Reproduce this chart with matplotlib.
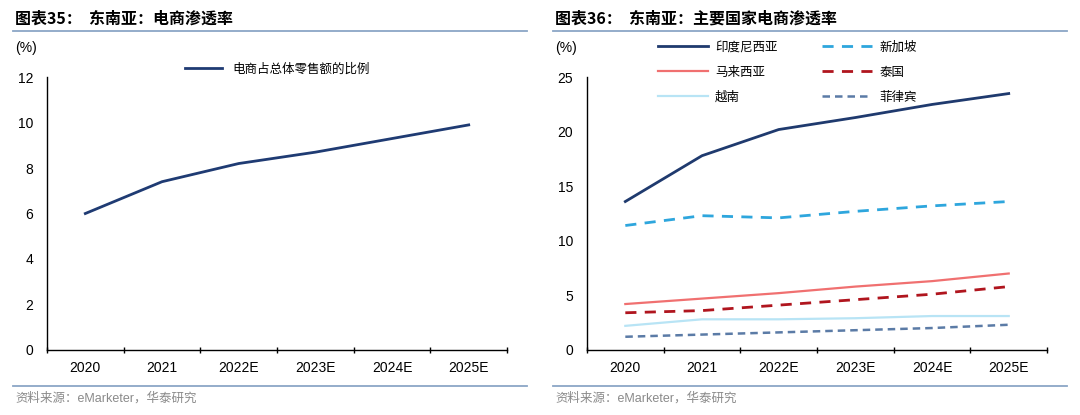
import numpy as np
import matplotlib.pyplot as plt
from matplotlib.lines import Line2D

plt.rcParams['font.family'] = ['Liberation Sans', 'Noto Sans CJK SC', 'DejaVu Sans']

years = ['2020', '2021', '2022E', '2023E', '2024E', '2025E']

# left chart: share of e-commerce in total retail (%)
sea_share = [6.0, 7.4, 8.2, 8.7, 9.3, 9.9]

# right chart: e-commerce penetration by country (%)
indonesia = [13.6, 17.8, 20.2, 21.3, 22.5, 23.5]
singapore = [11.4, 12.3, 12.1, 12.7, 13.2, 13.6]
malaysia = [4.2, 4.7, 5.2, 5.8, 6.3, 7.0]
thailand = [3.4, 3.6, 4.1, 4.6, 5.1, 5.8]
vietnam = [2.2, 2.8, 2.8, 2.9, 3.1, 3.1]
philippines = [1.2, 1.4, 1.6, 1.8, 2.0, 2.3]

fig = plt.figure(figsize=(10.8, 4.15), dpi=100)

cjk = ['Noto Sans CJK SC', 'DejaVu Sans']
rule_color = '#8ba6c6'
x = np.arange(len(years))


def setup_axes(ax, ymax, ystep):
    ax.set_xlim(-0.5, len(years) - 0.5)
    ax.set_ylim(0, ymax)
    ax.set_yticks(np.arange(0, ymax + 0.1, ystep))
    ax.set_xticks(x)
    ax.set_xticklabels(years, fontsize=10)
    ax.set_xticks(np.arange(-0.5, len(years), 1), minor=True)
    ax.tick_params(axis='x', which='major', length=0, pad=8)
    ax.tick_params(axis='x', which='minor', length=4, direction='inout', width=1)
    ax.tick_params(axis='y', length=0, pad=10, labelsize=10)
    for s in ['top', 'right']:
        ax.spines[s].set_visible(False)
    for s in ['left', 'bottom']:
        ax.spines[s].set_linewidth(1)
        ax.spines[s].set_color('black')


# left panel
ax1 = fig.add_axes([0.0435, 0.157, 0.426, 0.657])
ax1.plot(x, sea_share, color='#1f3b73', lw=2, label='电商占总体零售额的比例')
setup_axes(ax1, 12, 2)
ax1.legend(loc='upper center', bbox_to_anchor=(0.5, 1.095), frameon=False,
           prop={'family': cjk, 'size': 9}, handlelength=3.0)

# right panel
ax2 = fig.add_axes([0.5435, 0.157, 0.426, 0.657])
ax2.plot(x, indonesia, color='#1f3a6e', lw=2, label='印度尼西亚')
ax2.plot(x, singapore, color='#2ea6dd', lw=2, ls=(0, (4, 3)), label='新加坡')
ax2.plot(x, malaysia, color='#f07070', lw=1.6, label='马来西亚')
ax2.plot(x, thailand, color='#b0151e', lw=2, ls=(0, (4, 3)), label='泰国')
ax2.plot(x, vietnam, color='#b8e4f5', lw=1.6, label='越南')
ax2.plot(x, philippines, color='#5b7ba6', lw=1.8, ls=(0, (3, 2)), label='菲律宾')
setup_axes(ax2, 25, 5)
handles, labels = ax2.get_legend_handles_labels()
order = [0, 2, 4, 1, 3, 5]
ax2.legend([handles[i] for i in order], [labels[i] for i in order], ncol=2,
           loc='upper left', bbox_to_anchor=(0.13, 1.175), frameon=False,
           prop={'family': cjk, 'size': 9}, handlelength=4.0, handletextpad=0.55,
           columnspacing=3.6, labelspacing=0.95)

# titles, rules and source
for x0, title in [(0.012, '图表35：  东南亚：电商渗透率'),
                  (0.512, '图表36：  东南亚：主要国家电商渗透率')]:
    fig.text(x0 + 0.002, 0.955, title, fontsize=11.5, fontweight='bold',
             family=cjk, va='center')
    fig.add_artist(Line2D([x0, x0 + 0.476], [0.925, 0.925], color=rule_color, lw=1.3))
    fig.add_artist(Line2D([x0, x0 + 0.476], [0.07, 0.07], color=rule_color, lw=1.3))
    fig.text(x0 + 0.002, 0.04, '资料来源：eMarketer，华泰研究', fontsize=9,
             color='#8a8a8a', family=['Liberation Sans', 'Noto Sans CJK SC'], va='center')
    fig.text(x0 + 0.002, 0.884, '(%)', fontsize=10, va='center')

fig.savefig('out.png', dpi=100)
